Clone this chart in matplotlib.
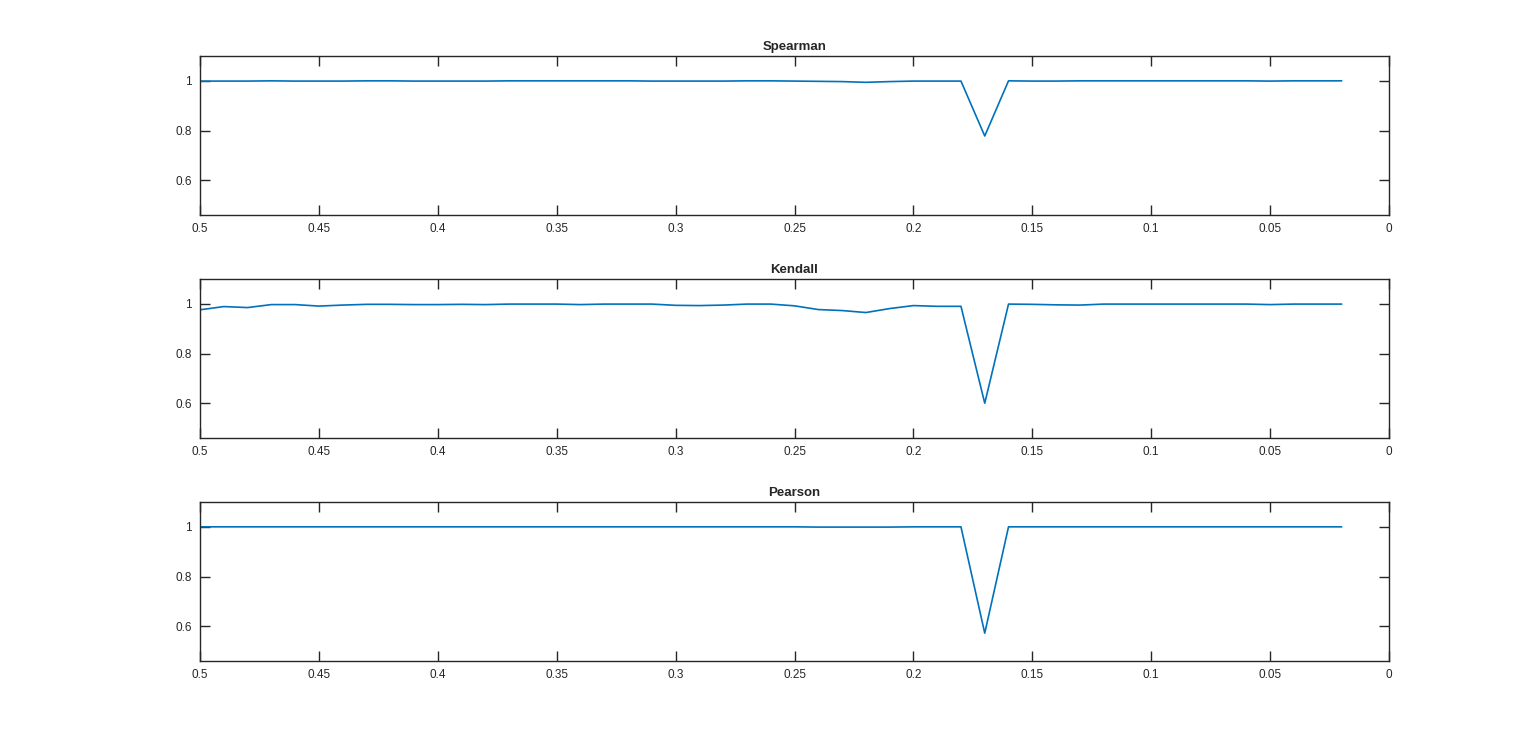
import numpy as np
import matplotlib
matplotlib.use('Agg')
import matplotlib.pyplot as plt

plt.rcParams['font.family'] = ['Liberation Sans', 'DejaVu Sans']

# threshold values (x axis, shown reversed)
thresholds = [0.50, 0.49, 0.48, 0.47, 0.46, 0.45, 0.44, 0.43, 0.42, 0.41,
              0.40, 0.39, 0.38, 0.37, 0.36, 0.35, 0.34, 0.33, 0.32, 0.31,
              0.30, 0.29, 0.28, 0.27, 0.26, 0.25, 0.24, 0.23, 0.22, 0.21,
              0.20, 0.19, 0.18, 0.17, 0.16, 0.15, 0.14, 0.13, 0.12, 0.11,
              0.10, 0.09, 0.08, 0.07, 0.06, 0.05, 0.04, 0.03, 0.02]

spearman = [0.999, 0.999, 0.999, 1.000, 0.999, 0.999, 0.999, 1.000, 1.000, 0.999,
            0.999, 0.999, 0.999, 1.000, 1.000, 1.000, 1.000, 1.000, 1.000, 0.999,
            0.999, 0.999, 0.999, 1.000, 1.000, 0.999, 0.998, 0.997, 0.994, 0.997,
            0.999, 0.999, 0.999, 0.778, 1.000, 0.999, 0.999, 1.000, 1.000, 1.000,
            1.000, 1.000, 1.000, 1.000, 1.000, 0.999, 1.000, 1.000, 1.000]

kendall = [0.976, 0.989, 0.985, 0.997, 0.997, 0.991, 0.995, 0.998, 0.998, 0.997,
           0.997, 0.998, 0.997, 0.999, 0.999, 0.999, 0.997, 0.999, 0.999, 0.999,
           0.994, 0.993, 0.995, 0.999, 0.999, 0.992, 0.977, 0.973, 0.965, 0.981,
           0.993, 0.990, 0.990, 0.600, 0.999, 0.998, 0.996, 0.995, 0.999, 0.999,
           0.999, 0.999, 0.999, 0.999, 0.999, 0.997, 0.999, 0.999, 0.999]

pearson = [1.000, 1.000, 1.000, 1.000, 1.000, 1.000, 1.000, 1.000, 1.000, 1.000,
           1.000, 1.000, 1.000, 1.000, 1.000, 1.000, 1.000, 1.000, 1.000, 1.000,
           1.000, 1.000, 1.000, 1.000, 1.000, 1.000, 0.999, 0.999, 0.999, 0.999,
           1.000, 1.000, 1.000, 0.572, 1.000, 1.000, 1.000, 1.000, 1.000, 1.000,
           1.000, 1.000, 1.000, 1.000, 1.000, 1.000, 1.000, 1.000, 1.000]

titles = ['Spearman', 'Kendall', 'Pearson']
series = [spearman, kendall, pearson]

xticks = [0.5, 0.45, 0.4, 0.35, 0.3, 0.25, 0.2, 0.15, 0.1, 0.05, 0]
xticklabels = ['0.5', '0.45', '0.4', '0.35', '0.3', '0.25', '0.2', '0.15', '0.1', '0.05', '0']
yticks = [0.6, 0.8, 1]
yticklabels = ['0.6', '0.8', '1']

fig = plt.figure(figsize=(15.36, 7.44), dpi=100)
W, H = 1536, 744
left, right = 200, 1389
tops = [56, 279, 502]
h = 159

for top, name, vals in zip(tops, titles, series):
    ax = fig.add_axes([left / W, 1 - (top + h) / H, (right - left) / W, h / H])
    ax.plot(thresholds, vals, color='#0072BD', lw=1.2)
    ax.set_xlim(0.5, 0)
    ax.set_ylim(0.46, 1.1)
    ax.set_xticks(xticks)
    ax.set_xticklabels(xticklabels)
    ax.set_yticks(yticks)
    ax.set_yticklabels(yticklabels)
    ax.tick_params(direction='in', length=7, width=1, color='#262626',
                   labelsize=8.5, labelcolor='#262626', top=True, right=True, pad=6)
    for s in ax.spines.values():
        s.set_color('#262626')
        s.set_linewidth(1)
    ax.set_title(name, fontsize=9.5, fontweight='bold', color='#262626', pad=4)

fig.savefig('out.png', dpi=100)
